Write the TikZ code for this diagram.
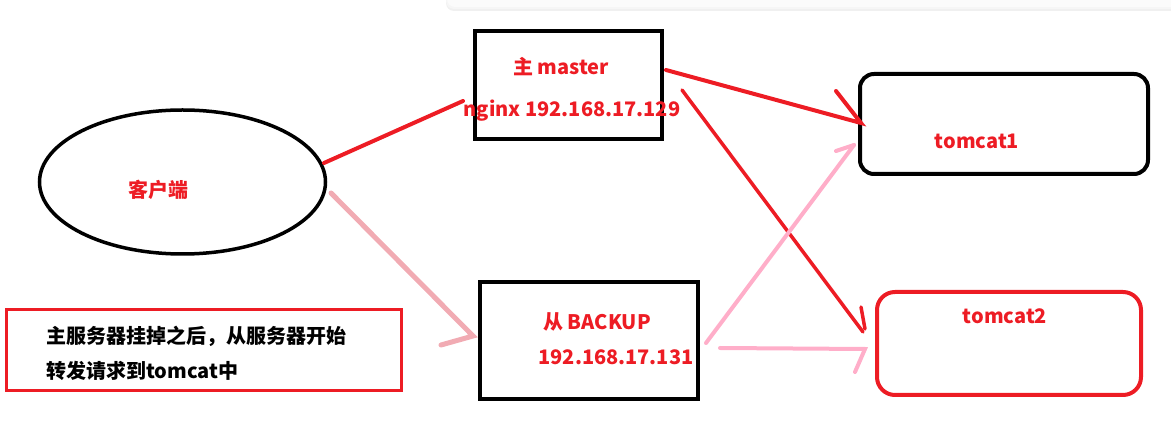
\documentclass[tikz,border=0pt]{standalone}
\usepackage{fontspec}
\setmainfont{Noto Sans CJK SC}
\usetikzlibrary{shapes.geometric,calc}
\definecolor{pred}{RGB}{237,28,36}
\definecolor{rose}{RGB}{255,174,201}
\definecolor{chalk}{RGB}{238,150,160}
\tikzset{
  box/.style={draw=black,line width=4pt,minimum width=#1,inner sep=0pt},
  lbl/.style={text=pred,font=\bfseries\fontsize{20}{23}\selectfont,inner sep=0pt},
  note/.style={text=black,font=\bfseries\fontsize{20}{23}\selectfont,inner sep=0pt,anchor=west},
  redline/.style={draw=pred,line width=4pt,line cap=round},
  thinred/.style={draw=pred,line width=3.5pt,line cap=round},
  roseline/.style={draw=rose,line width=4pt,line cap=round},
  chalkline/.style={draw=chalk,line width=5pt,line cap=round,opacity=0.8},
}
\begin{document}
\begin{tikzpicture}[x=1pt,y=-1pt]
\useasboundingbox (0,0) rectangle (1171,427);
% top bar
\fill[gray!12,rounded corners=8pt] (446,-20) rectangle (1185,11);
\fill[gray!7,rounded corners=8pt] (446,-20) rectangle (1185,9);
\fill[white!97!gray,rounded corners=8pt] (447,-20) rectangle (1185,7);
% shapes
\node[draw=black,line width=3.5pt,ellipse,minimum width=286pt,minimum height=144pt,inner sep=0pt] (client) at (182.5,182) {};
\node[box=187pt,minimum height=108pt] (master) at (568.5,85) {};
\node[box=218pt,minimum height=117pt] (backup) at (589,340.5) {};
\node[box=288pt,minimum height=100pt,rounded corners=14pt] (t1) at (1004,124) {};
\node[box=264pt,minimum height=103pt,rounded corners=18pt,draw=pred] (t2) at (1009,343.5) {};
\node[draw=pred,line width=3pt,minimum width=395pt,minimum height=81pt,inner sep=0pt] (notebox) at (204,350) {};
% labels
\node[lbl] (lc) at (158,190) {客户端};
\node[lbl] (lm1) at (561,67) {主 master};
\node[lbl] (lm2) at (572,111) {nginx 192.168.17.129};
\node[lbl] (lt1) at (977,141) {tomcat1};
\node[lbl] (lt2) at (1005,316) {tomcat2};
\node[lbl] (lb1) at (597,322) {从 BACKUP};
\node[lbl] (lb2) at (616,357) {192.168.17.131};
\node[note] (n1) at (46,336) {主服务器挂掉之后，从服务器开始};
\node[note] (n2) at (46,371) {转发请求到tomcat中};
% connector end points
\coordinate (c1) at (324,163);
\coordinate (m1) at (463,101);
\coordinate (c2) at (331,193);
\coordinate (b0) at (473,336);
\coordinate (b0h) at (441,345);
\coordinate (m2) at (666,70);
\coordinate (t1a) at (861,123);
\coordinate (t1ah) at (836,91);
\coordinate (m3) at (682,90);
\coordinate (t2a) at (863,332);
\coordinate (t2ah) at (861,307);
\coordinate (b1) at (706,343);
\coordinate (t1b) at (854,145);
\coordinate (t1bh) at (836,151);
\coordinate (b2) at (720,348);
\coordinate (t2b) at (865,349);
\coordinate (t2bh) at (855,372);
% connectors
\draw[redline] (c1) -- (m1);
\draw[chalkline] (c2) -- (b0) -- (b0h);
\draw[redline] (m2) -- (t1a) -- (t1ah);
\draw[thinred] (m3) -- (t2a);
\draw[thinred] (t2ah) -- ($(t2a)+(2,-3)$);
\draw[roseline] (b1) -- (t1b);
\draw[roseline] (t1bh) -- (t1b);
\draw[roseline] (b2) -- (t2b) -- (t2bh);
\end{tikzpicture}
\end{document}
